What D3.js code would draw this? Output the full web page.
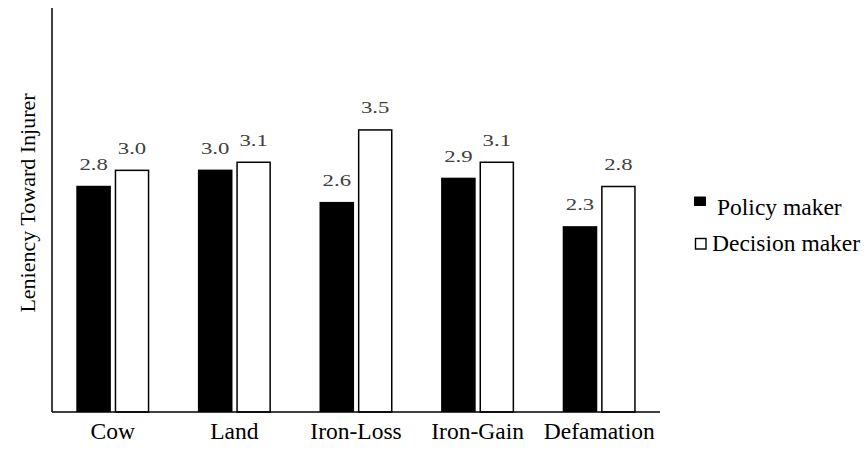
<!DOCTYPE html>
<html>
<head>
<meta charset="utf-8">
<script src="https://cdn.jsdelivr.net/npm/d3@7"></script>
<style>
  body { margin: 0; background: #fff; }
  svg { display: block; }
</style>
</head>
<body>
<svg id="chart" width="864" height="451"></svg>
<script>
const categories = ["Cow", "Land", "Iron-Loss", "Iron-Gain", "Defamation"];
const seriesNames = ["Policy maker", "Decision maker"];
const policyMaker = [2.8, 3.0, 2.6, 2.9, 2.3];
const decisionMaker = [3.0, 3.1, 3.5, 3.1, 2.8];
const yLabel = "Leniency Toward Injurer";

(function () {
const FONT = "'Liberation Serif', 'Times New Roman', Times, 'DejaVu Serif', serif";
const svg = d3.select("#chart").attr("font-family", FONT);
const mLeft = 52, mRight = 660, mTop = 8, mBottom = 412;

const x = d3.scaleBand().domain(categories).range([mLeft, mRight]).paddingInner(0).paddingOuter(0);
const xs = d3.scaleBand().domain(seriesNames).range([0, 73]).paddingInner(0.1);
const y = d3.scaleLinear().domain([0, 5]).range([mBottom, mTop]);

const series = [
  { name: seriesNames[0], values: policyMaker, fill: "#000", stroke: "#000" },
  { name: seriesNames[1], values: decisionMaker, fill: "#fff", stroke: "#000" }
];

const offset = (x.bandwidth() - 73) / 2;

series.forEach(s => {
  const isWhite = s.fill === "#fff";
  const g = svg.append("g");
  g.selectAll("rect").data(categories).join("rect")
    .attr("x", (d) => x(d) + offset + xs(s.name) + (isWhite ? 0.75 : 0))
    .attr("y", (d, i) => y(s.values[i]) + (isWhite ? 0.75 : 0))
    .attr("width", xs.bandwidth() - (isWhite ? 1.5 : 0))
    .attr("height", (d, i) => mBottom - y(s.values[i]) - (isWhite ? 0.75 : 0))
    .attr("fill", s.fill)
    .attr("stroke", isWhite ? s.stroke : "none")
    .attr("stroke-width", 1.5);
  g.selectAll("text").data(categories).join("text")
    .attr("transform", (d, i) =>
      `translate(${x(d) + offset + xs(s.name) + xs.bandwidth() / 2},${y(s.values[i]) - 16}) scale(1.3,1)`)
    .attr("text-anchor", "middle")
    .attr("font-family", FONT)
    .attr("font-size", 17.5)
    .attr("fill", "#404040")
    .text((d, i) => d3.format(".1f")(s.values[i]));
});

// axes
const xAxis = d3.axisBottom(x).tickSize(0).tickPadding(0);
const gx = svg.append("g").attr("transform", `translate(0,${mBottom})`).call(xAxis);
gx.attr("font-family", FONT);
gx.select(".domain").attr("stroke", "#000").attr("stroke-width", 1.5).attr("d", `M${mLeft},0H${mRight}`);
gx.selectAll("text").attr("font-size", 23.5).attr("fill", "#000").attr("font-family", FONT)
  .attr("y", 27).attr("dy", 0);

const yAxis = d3.axisLeft(y).tickValues([]).tickSize(0);
const gy = svg.append("g").attr("transform", `translate(${mLeft},0)`).call(yAxis);
gy.select(".domain").attr("stroke", "#000").attr("stroke-width", 1.5).attr("d", `M0,${mTop}V${mBottom}`);

svg.append("text")
  .attr("transform", `translate(35,203) rotate(-90)`)
  .attr("text-anchor", "middle")
  .attr("font-family", FONT)
  .attr("font-size", 22)
  .attr("fill", "#000")
  .text(yLabel);

// legend
const legend = svg.append("g");
const legItems = [
  { name: seriesNames[0], fill: "#000", sx: 694, sy: 196.5, tx: 717, ty: 215 },
  { name: seriesNames[1], fill: "#fff", sx: 695.5, sy: 238.5, tx: 712, ty: 251 }
];
legItems.forEach(it => {
  legend.append("rect")
    .attr("x", it.sx).attr("y", it.sy)
    .attr("width", it.fill === "#fff" ? 10.5 : 12).attr("height", it.fill === "#fff" ? 10.5 : 9.5)
    .attr("fill", it.fill)
    .attr("stroke", it.fill === "#fff" ? "#000" : "none")
    .attr("stroke-width", 1.4);
  legend.append("text")
    .attr("x", it.tx).attr("y", it.ty)
    .attr("font-family", FONT)
    .attr("font-size", 23.5)
    .attr("fill", "#000")
    .text(it.name);
});
})();
</script>
</body>
</html>
